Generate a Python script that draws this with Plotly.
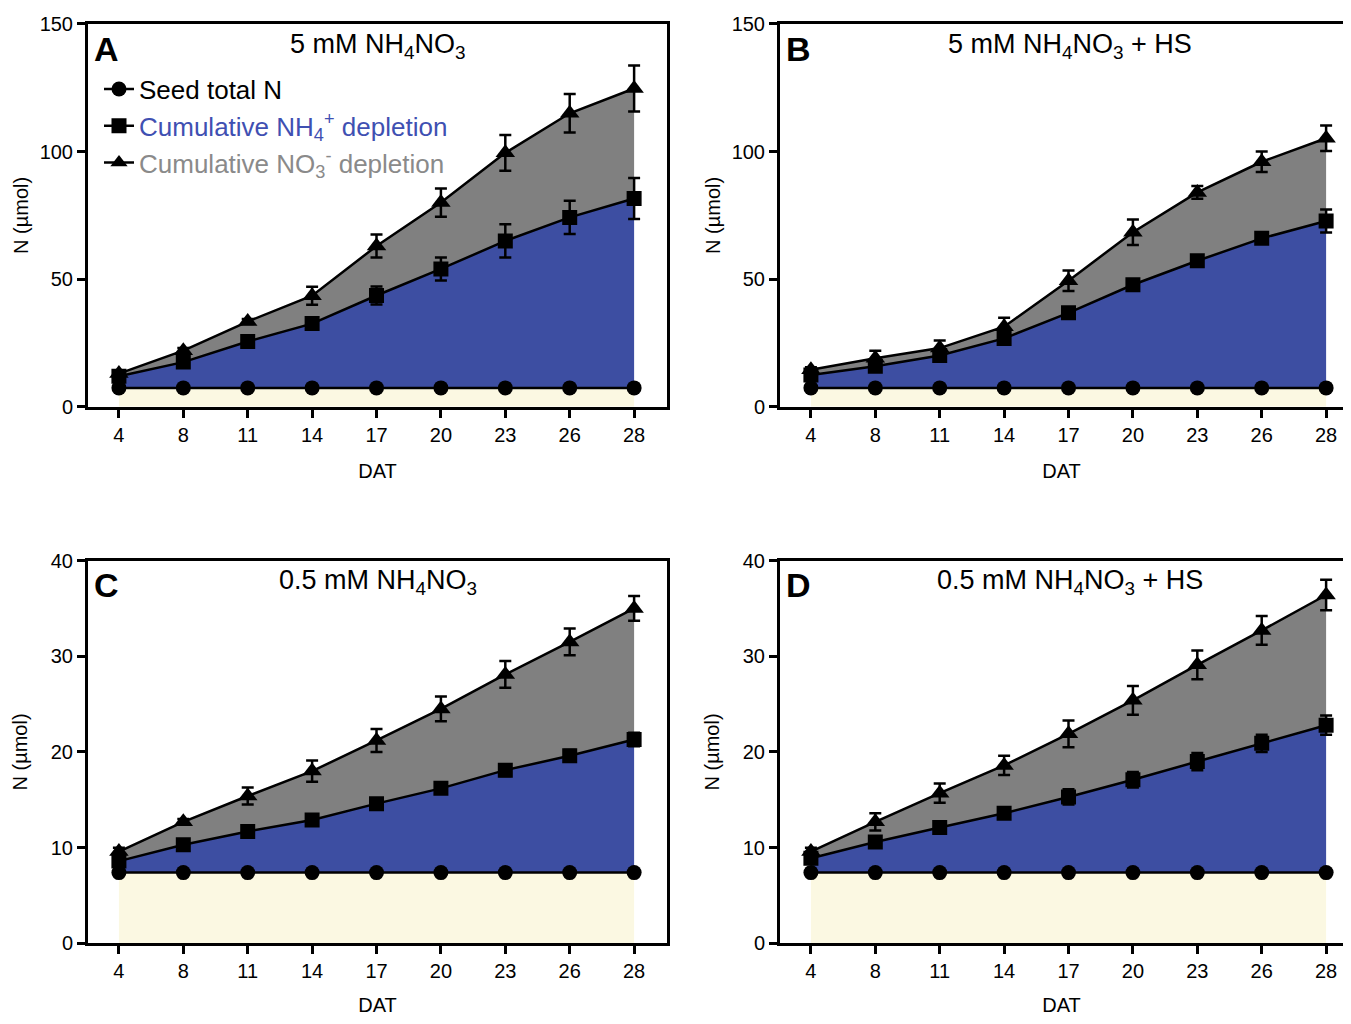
import plotly.graph_objects as go

dat = ["4", "8", "11", "14", "17", "20", "23", "26", "28"]

# Panel A: 5 mM NH4NO3
A_seed = [7.4, 7.4, 7.4, 7.4, 7.4, 7.4, 7.4, 7.4, 7.4]
A_nh4 = [12.0, 17.5, 25.6, 32.6, 43.6, 54.0, 65.0, 74.2, 81.6]
A_nh4_err = [1.0, 1.2, 1.2, 2.0, 3.5, 4.5, 6.5, 6.5, 8.0]
A_no3 = [13.0, 22.0, 33.4, 43.5, 63.0, 80.0, 99.5, 115.0, 124.7]
A_no3_err = [1.0, 1.0, 1.0, 3.5, 4.5, 5.5, 7.0, 7.5, 9.0]

# Panel B: 5 mM NH4NO3 + HS
B_seed = [7.4, 7.4, 7.4, 7.4, 7.4, 7.4, 7.4, 7.4, 7.4]
B_nh4 = [12.5, 15.9, 20.1, 26.8, 36.8, 47.8, 57.2, 66.0, 72.8]
B_nh4_err = [1.0, 1.5, 1.5, 1.5, 1.0, 1.0, 1.0, 1.0, 4.5]
B_no3 = [14.5, 19.0, 23.0, 31.4, 49.4, 68.4, 84.0, 96.0, 105.2]
B_no3_err = [1.0, 3.0, 3.0, 3.5, 4.0, 5.0, 2.5, 4.0, 5.0]

# Panel C: 0.5 mM NH4NO3
C_seed = [7.4, 7.4, 7.4, 7.4, 7.4, 7.4, 7.4, 7.4, 7.4]
C_nh4 = [8.6, 10.3, 11.7, 12.9, 14.6, 16.2, 18.1, 19.6, 21.3]
C_nh4_err = [0.5, 0.4, 0.5, 0.5, 0.5, 0.5, 0.6, 0.6, 0.7]
C_no3 = [9.6, 12.7, 15.4, 18.0, 21.2, 24.5, 28.1, 31.5, 35.0]
C_no3_err = [0.4, 0.3, 0.9, 1.1, 1.2, 1.3, 1.4, 1.4, 1.3]

# Panel D: 0.5 mM NH4NO3 + HS
D_seed = [7.4, 7.4, 7.4, 7.4, 7.4, 7.4, 7.4, 7.4, 7.4]
D_nh4 = [8.9, 10.6, 12.1, 13.6, 15.3, 17.1, 19.0, 20.9, 22.8]
D_nh4_err = [0.5, 0.5, 0.5, 0.5, 0.8, 0.8, 0.9, 0.9, 1.0]
D_no3 = [9.6, 12.7, 15.7, 18.6, 21.9, 25.4, 29.1, 32.7, 36.4]
D_no3_err = [0.4, 0.9, 1.0, 1.0, 1.4, 1.5, 1.5, 1.5, 1.6]

panels = [
    ("A", "5 mM NH<sub>4</sub>NO<sub>3</sub>", A_seed, A_nh4, A_nh4_err, A_no3, A_no3_err, [0, 150], [0, 50, 100, 150]),
    ("B", "5 mM NH<sub>4</sub>NO<sub>3</sub> + HS", B_seed, B_nh4, B_nh4_err, B_no3, B_no3_err, [0, 150], [0, 50, 100, 150]),
    ("C", "0.5 mM NH<sub>4</sub>NO<sub>3</sub>", C_seed, C_nh4, C_nh4_err, C_no3, C_no3_err, [0, 40], [0, 10, 20, 30, 40]),
    ("D", "0.5 mM NH<sub>4</sub>NO<sub>3</sub> + HS", D_seed, D_nh4, D_nh4_err, D_no3, D_no3_err, [0, 40], [0, 10, 20, 30, 40]),
]

OFF = 8  # page body margin
FW, FH = 1351 - 2 * OFF, 1024 - 2 * OFF
CREAM = "#FBF8E2"
BLUE = "#3D4EA2"
GRAY = "#808080"
FONT = "Liberation Sans, Arial, sans-serif"


def px(sx):
    return (sx - OFF) / FW


def py(sy):
    s = 23 + (sy - 23) / 0.992
    return 1 - ((s - 18) / 0.98) / FH


# screen-pixel plot areas (left, right, top, bottom)
boxes = [
    (88, 667, 23, 409),
    (780, 1359, 23, 409),
    (88, 667, 564, 950),
    (780, 1359, 564, 950),
]
step = 64.4  # px per category

fig = go.Figure()
layout = dict(
    width=FW, height=FH, margin=dict(l=0, r=0, t=0, b=0),
    paper_bgcolor="white", plot_bgcolor="white",
    font=dict(family=FONT, color="black"),
    showlegend=True,
    legend=dict(x=px(99), y=py(65), xanchor="left", yanchor="top",
                bgcolor="rgba(0,0,0,0)", font=dict(size=26, family=FONT),
                itemwidth=30, tracegroupgap=0, traceorder="normal"),
)
annotations = []

legend_names = [
    '<span style="color:black">Seed total N</span>',
    '<span style="color:#3F50B2">Cumulative NH<sub>4</sub><sup>+</sup> depletion</span>',
    '<span style="color:#8A8A8A">Cumulative NO<sub>3</sub><sup>-</sup> depletion</span>',
]
legend_symbols = ["circle", "square", "triangle-up"]

for i, (letter, title, seed, nh4, nh4e, no3, no3e, yr, yt) in enumerate(panels):
    k = "" if i == 0 else str(i + 1)
    xa, ya = "x" + k, "y" + k
    L, R, T, B = boxes[i]
    right = min(R, 1351 - OFF)
    x0 = -0.48
    x1 = x0 + (right - L) / step
    layout["xaxis" + k] = dict(
        domain=[px(L), min(px(R), 1.0)], anchor=ya, type="category",
        range=[x0, x1], showline=True, linewidth=3, linecolor="black",
        mirror=True, ticks="outside", ticklen=8, tickwidth=2.5, tickcolor="black",
        tickfont=dict(size=20, family=FONT), showgrid=False, zeroline=False,
        title=dict(text="DAT", font=dict(size=20, family=FONT), standoff=20),
    )
    layout["yaxis" + k] = dict(
        domain=[py(B), py(T)], anchor=xa, range=yr, tickvals=yt,
        showline=True, linewidth=3, linecolor="black",
        mirror=(i in (0, 2)), ticks="outside", ticklen=8, tickwidth=2.5, tickcolor="black",
        tickfont=dict(size=20, family=FONT), showgrid=False, zeroline=False,
        title=dict(text="N (µmol)", font=dict(size=20, family=FONT),
                   standoff=(6 if i < 2 else 18)),
    )
    fig.add_trace(go.Scatter(
        x=dat, y=seed, xaxis=xa, yaxis=ya, mode="lines+markers",
        fill="tozeroy", fillcolor=CREAM,
        line=dict(color="black", width=2.5),
        marker=dict(symbol="circle", size=15, color="black"),
        showlegend=False))
    fig.add_trace(go.Scatter(
        x=dat, y=nh4, xaxis=xa, yaxis=ya, mode="lines+markers",
        fill="tonexty", fillcolor=BLUE,
        line=dict(color="black", width=2.5),
        marker=dict(symbol="square", size=15, color="black"),
        error_y=dict(type="data", array=nh4e, color="black", thickness=2.5, width=6),
        showlegend=False))
    fig.add_trace(go.Scatter(
        x=dat, y=no3, xaxis=xa, yaxis=ya, mode="lines+markers",
        fill="tonexty", fillcolor=GRAY,
        line=dict(color="black", width=2.5),
        marker=dict(symbol="triangle-up", size=17, color="black"),
        error_y=dict(type="data", array=no3e, color="black", thickness=2.5, width=6),
        showlegend=False))

    annotations.append(dict(
        x=px(L + 4), y=py(T + 25), xref="paper", yref="paper",
        text="<b>%s</b>" % letter, showarrow=False, xanchor="left", yanchor="middle",
        font=dict(size=34, family=FONT, color="black")))
    annotations.append(dict(
        x=px(L + 290), y=py(T + 22), xref="paper", yref="paper",
        text=title, showarrow=False, xanchor="center", yanchor="middle",
        font=dict(size=27, family=FONT, color="black")))

# legend-only entries (panel A legend)
for name, sym in zip(legend_names, legend_symbols):
    fig.add_trace(go.Scatter(
        x=[None], y=[None], xaxis="x", yaxis="y", mode="lines+markers",
        line=dict(color="black", width=2.5),
        marker=dict(symbol=sym, size=15, color="black"),
        name=name, showlegend=True))

layout["annotations"] = annotations
fig.update_layout(**layout)
fig.write_html("out.html")
